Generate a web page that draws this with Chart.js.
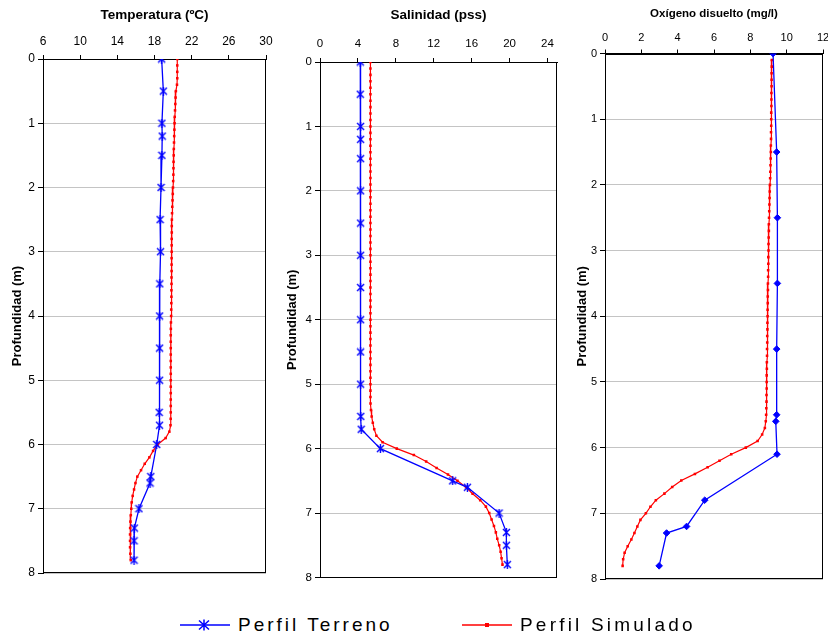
<!DOCTYPE html>
<html>
<head>
<meta charset="utf-8">
<script src="https://cdn.jsdelivr.net/npm/chart.js@4/dist/chart.umd.min.js"></script>
<style>
html,body{margin:0;padding:0;background:#fff;width:828px;height:637px;overflow:hidden;position:relative;font-family:"Liberation Sans",Arial,sans-serif;}
canvas{position:absolute;top:0;}
.legtxt{position:absolute;font-size:19px;line-height:20px;letter-spacing:3px;color:#000;white-space:nowrap;}
.legsym{position:absolute;}
</style>
</head>
<body>
<canvas id="cTemp" width="284" height="600" style="left:0px"></canvas>
<canvas id="cSal" width="300" height="600" style="left:275px"></canvas>
<canvas id="cOxy" width="280" height="600" style="left:565px"></canvas>

<svg class="legsym" style="left:180px;top:619px" width="50" height="12">
  <line x1="0" y1="6" x2="50" y2="6" stroke="#0000ff" stroke-width="1.5"/>
  <path d="M19 1.5 L29 10.5 M29 1.5 L19 10.5 M24 0.5 L24 11.5" stroke="#0000ff" stroke-width="1.5" fill="none"/>
</svg>
<div class="legtxt" style="left:238px;top:615px">Perfil Terreno</div>
<svg class="legsym" style="left:462px;top:619px" width="50" height="12">
  <line x1="0" y1="6" x2="50" y2="6" stroke="#ff0000" stroke-width="1.5"/>
  <rect x="23" y="4" width="4" height="4" fill="#ff0000"/>
</svg>
<div class="legtxt" style="left:520px;top:615px;letter-spacing:3.2px">Perfil Simulado</div>

<script>
// ---------------- DATA ----------------
const depthTicks = [0, 1, 2, 3, 4, 5, 6, 7, 8];
const tempTicks = [6, 10, 14, 18, 22, 26, 30];
const salTicks = [0, 4, 8, 12, 16, 20, 24];
const oxyTicks = [0, 2, 4, 6, 8, 10, 12];

// Perfil Terreno (field profile)
const tempObsDepth = [0, 0.5, 1, 1.2, 1.5, 2, 2.5, 3, 3.5, 4, 4.5, 5, 5.5, 5.7, 6, 6.5, 6.6, 7, 7.3, 7.5, 7.8];
const tempObs = [18.77, 18.95, 18.8, 18.83, 18.8, 18.7, 18.6, 18.65, 18.57, 18.55, 18.55, 18.55, 18.5, 18.54, 18.24, 17.6, 17.52, 16.33, 15.83, 15.8, 15.8];

const salObsDepth = [0, 0.5, 1, 1.2, 1.5, 2, 2.5, 3, 3.5, 4, 4.5, 5, 5.5, 5.7, 6, 6.5, 6.6, 7, 7.3, 7.5, 7.8];
const salObs = [4.25, 4.25, 4.28, 4.28, 4.28, 4.28, 4.28, 4.28, 4.28, 4.28, 4.28, 4.28, 4.3, 4.35, 6.37, 13.99, 15.55, 18.89, 19.66, 19.66, 19.76];

const oxyObsDepth = [0, 1.5, 2.5, 3.5, 4.5, 5.5, 5.6, 6.1, 6.8, 7.2, 7.3, 7.8];
const oxyObs = [9.25, 9.45, 9.49, 9.49, 9.45, 9.45, 9.4, 9.47, 5.49, 4.49, 3.39, 2.98];

// Perfil Simulado (model profile)
const simDepth = [0, 0.1, 0.2, 0.3, 0.4, 0.5, 0.6, 0.7, 0.8, 0.9,
  1, 1.1, 1.2, 1.3, 1.4, 1.5, 1.6, 1.7, 1.8, 1.9,
  2, 2.1, 2.2, 2.3, 2.4, 2.5, 2.6, 2.7, 2.8, 2.9,
  3, 3.1, 3.2, 3.3, 3.4, 3.5, 3.6, 3.7, 3.8, 3.9,
  4, 4.1, 4.2, 4.3, 4.4, 4.5, 4.6, 4.7, 4.8, 4.9,
  5, 5.1, 5.2, 5.3, 5.4, 5.5, 5.6, 5.7, 5.8, 5.9,
  6, 6.1, 6.2, 6.3, 6.4, 6.5, 6.6, 6.7, 6.8, 6.9,
  7, 7.1, 7.2, 7.3, 7.4, 7.5, 7.6, 7.7, 7.8];

const tempSim = [20.45, 20.45, 20.45, 20.45, 20.42, 20.3, 20.27, 20.24, 20.21, 20.18,
  20.16, 20.14, 20.12, 20.1, 20.08, 20.07, 20.05, 20.04, 20.03, 20.01,
  19.99, 19.97, 19.94, 19.91, 19.89, 19.87, 19.86, 19.86, 19.85, 19.85,
  19.85, 19.84, 19.84, 19.84, 19.83, 19.83, 19.82, 19.82, 19.81, 19.8,
  19.79, 19.77, 19.76, 19.75, 19.75, 19.75, 19.75, 19.75, 19.75, 19.75,
  19.75, 19.75, 19.75, 19.75, 19.75, 19.75, 19.74, 19.72, 19.6, 19.2,
  18.35, 17.85, 17.45, 16.95, 16.55, 16.15, 15.95, 15.8, 15.65, 15.55,
  15.5, 15.45, 15.41, 15.38, 15.37, 15.37, 15.37, 15.4, 15.45];

const salSim = [5.32, 5.32, 5.32, 5.32, 5.32, 5.32, 5.32, 5.32, 5.32, 5.32,
  5.32, 5.32, 5.32, 5.32, 5.32, 5.32, 5.32, 5.32, 5.32, 5.32,
  5.32, 5.32, 5.32, 5.32, 5.32, 5.32, 5.32, 5.32, 5.32, 5.32,
  5.32, 5.32, 5.32, 5.32, 5.32, 5.32, 5.32, 5.32, 5.32, 5.32,
  5.32, 5.32, 5.32, 5.32, 5.32, 5.32, 5.32, 5.32, 5.32, 5.32,
  5.32, 5.32, 5.32, 5.33, 5.38, 5.45, 5.57, 5.72, 5.95, 6.6,
  8.1, 9.9, 11.2, 12.3, 13.5, 14.5, 15.4, 16.1, 16.9, 17.5,
  17.85, 18.1, 18.35, 18.55, 18.7, 18.9, 19.05, 19.15, 19.25];

const oxySim = [null, 9.18, 9.18, 9.17, 9.17, 9.17, 9.16, 9.16, 9.16, 9.15,
  9.15, 9.15, 9.14, 9.14, 9.13, 9.13, 9.12, 9.11, 9.1, 9.09,
  9.08, 9.07, 9.06, 9.05, 9.04, 9.03, 9.02, 9.02, 9.01, 9.0,
  9.0, 8.99, 8.99, 8.98, 8.98, 8.97, 8.97, 8.96, 8.96, 8.95,
  8.95, 8.94, 8.94, 8.93, 8.93, 8.92, 8.92, 8.91, 8.91, 8.9,
  8.9, 8.9, 8.89, 8.89, 8.88, 8.87, 8.85, 8.8, 8.65, 8.4,
  7.75, 6.95, 6.3, 5.65, 4.95, 4.2, 3.7, 3.27, 2.8, 2.5,
  2.25, 1.95, 1.78, 1.62, 1.45, 1.25, 1.08, 1.0, 0.97];

// ---------------- CHARTS ----------------
const FONT = '"Liberation Sans", Arial, sans-serif';

function toPts(depths, vals) {
  return depths.map((d, i) => ({ x: vals[i], y: d }));
}

function starMarker(color) {
  const c = document.createElement('canvas');
  c.width = 9; c.height = 9;
  const g = c.getContext('2d');
  g.strokeStyle = color; g.lineWidth = 1.4;
  g.beginPath();
  g.moveTo(1, 1); g.lineTo(8, 8);
  g.moveTo(8, 1); g.lineTo(1, 8);
  g.moveTo(4.5, 0); g.lineTo(4.5, 9);
  g.stroke();
  return c;
}
const blueStar = starMarker('#0000ff');

const boxPlugin = {
  id: 'plotBox',
  beforeDatasetsDraw(chart) {
    const a = chart.chartArea, ctx = chart.ctx;
    ctx.save();
    ctx.strokeStyle = '#000';
    ctx.lineWidth = 1;
    const l = Math.round(a.left) + 0.5, t = Math.round(a.top) + 0.5;
    const r = Math.round(a.right) - 0.5, b = Math.round(a.bottom) - 0.5;
    ctx.strokeRect(l, t, r - l, b - t);
    ctx.restore();
  }
};

function makePanel(id, cfg) {
  return new Chart(document.getElementById(id), {
    type: 'scatter',
    data: {
      datasets: [
        {
          label: 'Perfil Simulado',
          data: toPts(simDepth, cfg.sim),
          showLine: true,
          borderColor: '#ff0000',
          borderWidth: 1.2,
          pointStyle: 'rect',
          pointRadius: 1.8,
          pointBackgroundColor: '#ff0000',
          pointBorderColor: '#ff0000',
          pointBorderWidth: 0,
          order: 2
        },
        {
          label: 'Perfil Terreno',
          data: toPts(cfg.obsDepth, cfg.obs),
          showLine: true,
          borderColor: '#0000ff',
          borderWidth: 1.3,
          pointStyle: cfg.obsStyle,
          pointRadius: cfg.obsRadius,
          pointBackgroundColor: '#0000ff',
          pointBorderColor: '#0000ff',
          pointBorderWidth: 1,
          order: 1
        }
      ]
    },
    options: {
      responsive: false,
      animation: false,
      devicePixelRatio: 1,
      layout: { padding: { left: 0, top: 0, right: cfg.padR, bottom: cfg.padB } },
      plugins: { legend: { display: false }, tooltip: { enabled: false } },
      scales: {
        x: {
          type: 'linear',
          position: 'top',
          min: cfg.xMin,
          max: cfg.xMax,
          afterFit: s => { s.height = cfg.xH; },
          afterBuildTicks: ax => { ax.ticks = cfg.xTicks.map(v => ({ value: v })); },
          ticks: { autoSkip: false, maxRotation: 0, padding: cfg.xPad, color: '#000', font: { family: FONT, size: cfg.tickSize } },
          grid: { drawOnChartArea: false, drawTicks: true, tickLength: 4, tickColor: '#000', color: '#000' },
          border: { display: true, color: '#000', width: 1 },
          title: { display: true, text: cfg.title, color: '#000', font: { family: FONT, size: cfg.titleSize, weight: 'bold' }, padding: { top: 7, bottom: 0 } }
        },
        y: {
          type: 'linear',
          reverse: true,
          min: 0,
          max: 8,
          afterFit: s => { s.width = cfg.yW; },
          afterBuildTicks: ax => { ax.ticks = depthTicks.map(v => ({ value: v })); },
          ticks: { autoSkip: false, padding: 3, color: '#000', font: { family: FONT, size: cfg.tickSize } },
          grid: { color: '#c4c4c4', lineWidth: 1, tickColor: '#000', tickLength: 5 },
          border: { display: true, color: '#000', width: 1 },
          title: { display: true, text: 'Profundidad (m)', color: '#000', font: { family: FONT, size: 13, weight: 'bold' }, padding: { top: 9.5, bottom: 0 } }
        }
      }
    },
    plugins: [boxPlugin]
  });
}

makePanel('cTemp', {
  title: 'Temperatura (ºC)', titleSize: 13.5, tickSize: 12,
  xMin: 6, xMax: 30, xTicks: tempTicks, xPad: 6.4,
  obsDepth: tempObsDepth, obs: tempObs, sim: tempSim,
  obsStyle: blueStar, obsRadius: 4,
  yW: 43, xH: 59, padR: 18, padB: 27
});

makePanel('cSal', {
  title: 'Salinidad (pss)', titleSize: 13.5, tickSize: 11.5,
  xMin: 0, xMax: 25, xTicks: salTicks, xPad: 7.5,
  obsDepth: salObsDepth, obs: salObs, sim: salSim,
  obsStyle: blueStar, obsRadius: 4,
  yW: 45, xH: 62, padR: 18, padB: 22.5
});

makePanel('cOxy', {
  title: 'Oxígeno disuelto (mg/l)', titleSize: 11.5, tickSize: 11,
  xMin: 0, xMax: 12, xTicks: oxyTicks, xPad: 4.6,
  obsDepth: oxyObsDepth, obs: oxyObs, sim: oxySim,
  obsStyle: 'rectRot', obsRadius: 3.3,
  yW: 40, xH: 53.5, padR: 22, padB: 21
});
</script>
</body>
</html>
